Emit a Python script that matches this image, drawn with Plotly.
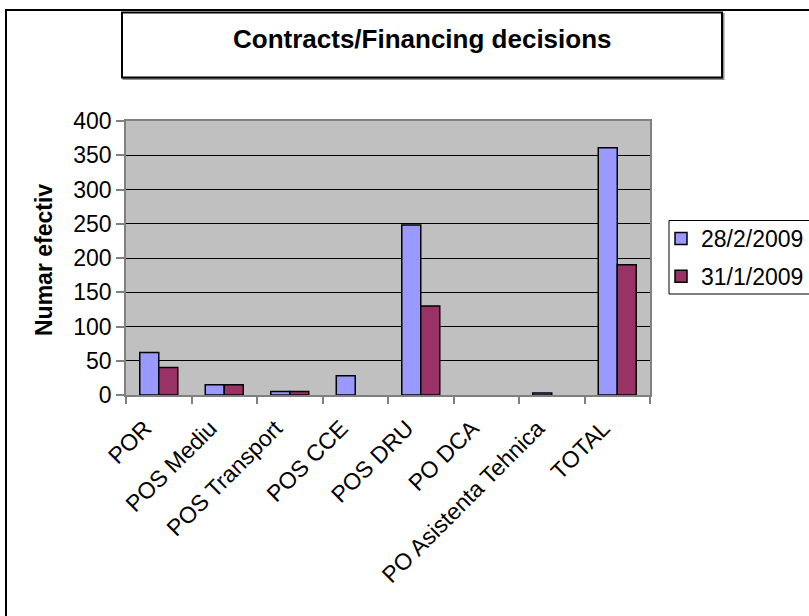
import plotly.graph_objects as go

categories = ["POR", "POS Mediu", "POS Transport", "POS CCE", "POS DRU",
              "PO DCA", "PO Asistenta Tehnica", "TOTAL"]
series_names = ["28/2/2009", "31/1/2009"]
values_feb = [62, 15, 5, 28, 248, 0, 3, 361]
values_jan = [40, 15, 5, 0, 130, 0, 0, 190]
y_ticks = [0, 50, 100, 150, 200, 250, 300, 350, 400]
chart_title = "Contracts/Financing decisions"
y_title = "Numar efectiv"

W, H = 809, 616
L, R, T, B = 126, 159, 121, 221
PW, PH = W - L - R, H - T - B


def px(xp):
    return (xp - L) / PW


def py(yp):
    return (H - B - yp) / PH


FONT = "Arial, Liberation Sans, sans-serif"


def outline_widths(vals):
    # Excel draws no outline for zero-height bars
    return [1.5 if v > 0 else 0 for v in vals]


fig = go.Figure()
fig.add_trace(go.Bar(x=categories, y=values_feb, name=series_names[0],
                     marker=dict(color="#9999FF",
                                 line=dict(color="black", width=outline_widths(values_feb))),
                     legendgroup="a"))
fig.add_trace(go.Bar(x=categories, y=values_jan, name=series_names[1],
                     marker=dict(color="#993366",
                                 line=dict(color="black", width=outline_widths(values_jan))),
                     legendgroup="b"))

fig.update_layout(
    width=W, height=H,
    margin=dict(l=L, r=R, t=T, b=B, autoexpand=False),
    paper_bgcolor="white",
    plot_bgcolor="#C0C0C0",
    barmode="group", bargap=0.42, bargroupgap=0,
    font=dict(family=FONT, color="black", size=23),
    showlegend=True,
    legend=dict(x=px(661), y=py(217), xanchor="left", yanchor="top",
                borderwidth=0, bgcolor="rgba(0,0,0,0)",
                font=dict(size=23), traceorder="grouped", tracegroupgap=5),
    xaxis=dict(showgrid=False, tickson="boundaries", ticks="outside", ticklen=7,
               tickcolor="#808080", tickwidth=1.5, showline=True, linecolor="#808080",
               linewidth=1.5, mirror=True, tickangle=-45, tickfont=dict(size=23),
               ticklabelstandoff=9, ticklabelshift=-14),
    yaxis=dict(range=[0, 400], tickvals=y_ticks, showgrid=True, gridcolor="black",
               gridwidth=1, ticks="outside", ticklen=8, tickcolor="#808080",
               tickwidth=1.5, showline=True, linecolor="#808080", linewidth=1.5,
               mirror=True, zeroline=False, tickfont=dict(size=23)),
)

shapes = [
    # outer frame
    dict(type="rect", xref="paper", yref="paper", x0=px(6), x1=px(840), y0=py(660), y1=py(10),
         line=dict(color="black", width=2), layer="above"),
    # title box shadow
    dict(type="rect", xref="paper", yref="paper", x0=px(123.5), x1=px(723.5), y0=py(79), y1=py(14),
         line=dict(color="#909090", width=2), layer="above"),
    # title box
    dict(type="rect", xref="paper", yref="paper", x0=px(122), x1=px(722), y0=py(77.5), y1=py(12.5),
         line=dict(color="black", width=2), fillcolor="white", layer="above"),
    # legend box
    dict(type="rect", xref="paper", yref="paper", x0=px(669), x1=px(840), y0=py(294), y1=py(220.5),
         line=dict(color="black", width=1), layer="below"),
]
fig.update_layout(shapes=shapes)

fig.add_annotation(text=f"<b>{chart_title}</b>", xref="paper", yref="paper",
                   x=px(422), y=py(39), xanchor="center", yanchor="middle",
                   showarrow=False, font=dict(size=26, family=FONT, color="black"))
fig.add_annotation(text=f"<b>{y_title}</b>", xref="paper", yref="paper",
                   x=px(44), y=py(260), xanchor="center", yanchor="middle",
                   textangle=-90, showarrow=False,
                   font=dict(size=23, family=FONT, color="black"))

fig.write_html("out.html", config={"displayModeBar": False},
               post_script="document.body.style.margin='0';")
